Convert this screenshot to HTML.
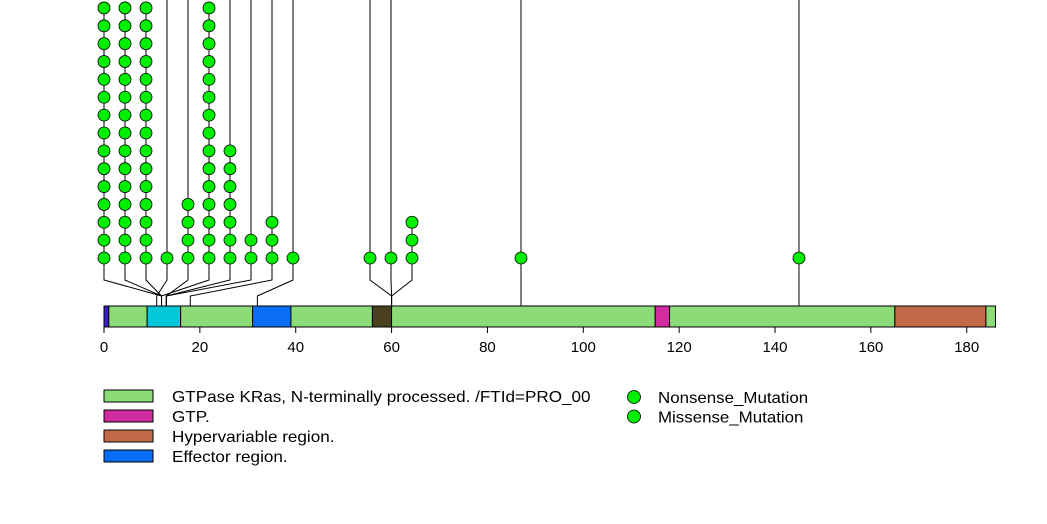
<!DOCTYPE html>
<html><head><meta charset="utf-8"><style>
html,body{margin:0;padding:0;background:#fff;}
svg{display:block;font-family:"Liberation Sans",Arial,sans-serif;}
</style></head><body>
<svg id="chart" width="1047" height="524" viewBox="0 0 1047 524" xmlns="http://www.w3.org/2000/svg">
<g id="lines"></g>
<g id="bar"></g>
<g id="axis"></g>
<g id="dots"></g>
<g id="legend"></g>
</svg>
<script>
// mutation data: protein position, count, whether stem runs to top
const mutPositions = [12, 12, 12, 11, 13, 12, 13, 13, 18, 32, 60, 60, 60, 87, 145];
const mutCounts    = [15, 15, 15, 1, 4, 15, 7, 2, 3, 1, 1, 1, 3, 1, 1];
const mutTallStem  = [0, 0, 0, 1, 1, 0, 1, 1, 1, 1, 1, 1, 0, 1, 1];
const mutColumns   = [0, 1, 2, 3, 4, 5, 6, 7, 8, 9, 0, 1, 2, -1, -1];
// domains
const domStart = [0, 1, 9, 16, 31, 39, 56, 60, 115, 118, 165, 184];
const domEnd   = [1, 9, 16, 31, 39, 56, 60, 115, 118, 165, 184, 186];
const domColor = ["#3a1fc8","#8ddb78","#00c8d8","#8ddb78","#0a6ef5","#8ddb78","#4a4020","#8ddb78","#d12da0","#8ddb78","#c2694a","#8ddb78"];
const tickValues = [0,20,40,60,80,100,120,140,160,180];
const legendLabels = ["GTPase KRas, N-terminally processed. /FTId=PRO_00","GTP.","Hypervariable region.","Effector region."];
const legendColors = ["#8ddb78","#d12da0","#c2694a","#0a6ef5"];
const pointLabels = ["Nonsense_Mutation","Missense_Mutation"];

const NS="http://www.w3.org/2000/svg";
const x0=104, ppu=4.793;
const xs=v=>x0+v*ppu;
const barTop=306, barBot=327;
function mk(tag,attrs,parent){const e=document.createElementNS(NS,tag);for(const k in attrs)e.setAttribute(k,attrs[k]);parent.appendChild(e);return e;}
const gL=document.getElementById('lines'),gB=document.getElementById('bar'),gA=document.getElementById('axis'),gD=document.getElementById('dots'),gG=document.getElementById('legend');

for(let i=0;i<domStart.length;i++){
  const r=mk('rect',{x:xs(domStart[i]),y:barTop,width:xs(domEnd[i])-xs(domStart[i]),height:barBot-barTop,fill:domColor[i],stroke:'#000','stroke-width':1},gB);
  
  
}
mk('line',{x1:xs(0),x2:xs(180),y1:barBot,y2:barBot,stroke:'#000'},gA);
for(const t of tickValues){
  mk('line',{x1:xs(t),x2:xs(t),y1:barBot,y2:barBot+6,stroke:'#000'},gA);
  const tx=mk('text',{x:xs(t),y:352,'font-size':15,'text-anchor':'middle',fill:'#000'},gA);
  tx.textContent=t;
  
  
}
const baseY=258, step=17.86;
const groupStart=[104,104,104,104,104,104,104,104,104,104,370,370,370];
for(let i=0;i<mutPositions.length;i++){
  const px=xs(mutPositions[i]);
  let cx;
  if(mutColumns[i]<0){cx=px;}
  else cx=groupStart[i]+mutColumns[i]*21;
  if(mutColumns[i]<0){
    mk('line',{x1:cx,x2:cx,y1:baseY,y2:barBot,stroke:'#000'},gL);
  } else {
    mk('polyline',{points:`${cx},${baseY} ${cx},280 ${px},296 ${px},${barBot}`,fill:'none',stroke:'#000'},gL);
  }
  const topY=mutTallStem[i]?0:baseY-(mutCounts[i]-1)*step;
  mk('line',{x1:cx,x2:cx,y1:topY,y2:baseY,stroke:'#000'},gL);
  for(let k=0;k<mutCounts[i];k++){
    const c=mk('circle',{cx:cx,cy:baseY-k*step,r:6,fill:'#00ee00',stroke:'#000','stroke-width':0.8},gD);
    
    
  }
}
for(let i=0;i<legendLabels.length;i++){
  const y=390+i*20;
  const r=mk('rect',{x:104,y:y,width:49,height:12,fill:legendColors[i],stroke:'#000'},gG);
  
  
  const t=mk('text',{x:0,y:0,'font-size':16,fill:'#000',transform:`translate(172,${y+12}) scale(1.07,1)`},gG);
  t.textContent=legendLabels[i];
  
  
}
for(let i=0;i<pointLabels.length;i++){
  const y=397+i*19.5;
  const c=mk('circle',{cx:634,cy:y,r:6.5,fill:'#00ee00',stroke:'#000','stroke-width':0.8},gG);
  
  
  const t=mk('text',{x:0,y:0,'font-size':16,fill:'#000',transform:`translate(658,${y+6}) scale(1.056,1)`},gG);
  t.textContent=pointLabels[i];
  
  
}
</script>
</body></html>
